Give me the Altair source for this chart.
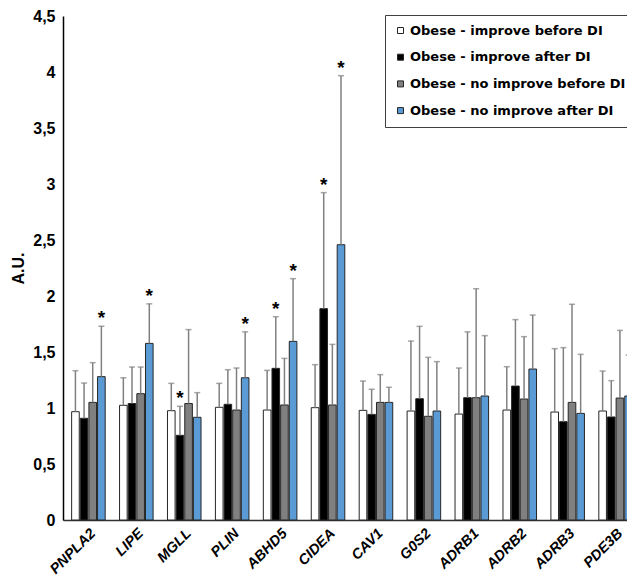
import altair as alt
import pandas as pd

genes = ["PNPLA2", "LIPE", "MGLL", "PLIN", "ABHD5", "CIDEA",
         "CAV1", "G0S2", "ADRB1", "ADRB2", "ADRB3", "PDE3B"]
series = ["Obese - improve before DI", "Obese - improve after DI",
          "Obese - no improve before DI", "Obese - no improve after DI"]
colors = ["#ffffff", "#000000", "#808080", "#5b9bd5"]

mean_improve_before = [0.967, 1.024, 0.976, 1.006, 0.982, 1.003, 0.979, 0.973, 0.946, 0.982, 0.964, 0.973]
mean_improve_after = [0.908, 1.040, 0.756, 1.033, 1.354, 1.887, 0.943, 1.083, 1.092, 1.196, 0.878, 0.920]
mean_noimprove_before = [1.050, 1.128, 1.040, 0.982, 1.027, 1.027, 1.050, 0.926, 1.092, 1.080, 1.050, 1.089]
mean_noimprove_after = [1.280, 1.577, 0.917, 1.270, 1.595, 2.458, 1.050, 0.973, 1.107, 1.348, 0.952, 1.107]

sd_improve_before = [0.366, 0.246, 0.244, 0.214, 0.354, 0.384, 0.262, 0.625, 0.411, 0.387, 0.566, 0.357]
sd_improve_after = [0.315, 0.326, 0.259, 0.309, 0.461, 1.036, 0.224, 0.646, 0.588, 0.593, 0.661, 0.324]
sd_noimprove_before = [0.355, 0.238, 0.660, 0.375, 0.416, 0.541, 0.248, 0.526, 0.973, 0.557, 0.876, 0.604]
sd_noimprove_after = [0.450, 0.353, 0.220, 0.410, 0.560, 1.509, 0.135, 0.441, 0.539, 0.482, 0.527, 0.366]

sig_improve_after = ["MGLL", "ABHD5", "CIDEA"]
sig_noimprove_after = ["PNPLA2", "LIPE", "PLIN", "ABHD5", "CIDEA"]

means = [mean_improve_before, mean_improve_after, mean_noimprove_before, mean_noimprove_after]
sds = [sd_improve_before, sd_improve_after, sd_noimprove_before, sd_noimprove_after]
sigs = [[], sig_improve_after, [], sig_noimprove_after]

rows = []
for s, ms, es, sg in zip(series, means, sds, sigs):
    for g, m, e in zip(genes, ms, es):
        rows.append(dict(gene=g, series=s, mean=m, upper=m + e,
                         star="*" if g in sg else ""))
df = pd.DataFrame(rows)

x = alt.X("gene:N", sort=genes,
          scale=alt.Scale(paddingInner=0.3, paddingOuter=0.18, range=[0, 578]),
          axis=alt.Axis(title=None, labelAngle=-45, labelFont="Liberation Sans",
                        labelFontSize=14.5, labelFontWeight="bold", labelFontStyle="italic",
                        labelColor="black", ticks=False, labelPadding=6,
                        domainColor="#333333", domainWidth=1.5))
xo = alt.XOffset("series:N", sort=series,
                 scale=alt.Scale(domain=series, paddingInner=0.12))
yscale = alt.Scale(domain=[0, 4.5], nice=False)
yaxis = alt.Axis(title="A.U.", values=[0, 0.5, 1, 1.5, 2, 2.5, 3, 3.5, 4, 4.5],
                 labelExpr="replace(format(datum.value, '.1~f'), '.', ',')",
                 grid=False, ticks=False, labelFont="Liberation Sans", labelFontSize=16,
                 labelFontWeight="bold", labelColor="black", labelPadding=8,
                 domainColor="black", domainWidth=1.5,
                 titleFont="Liberation Sans", titleFontSize=16, titleFontWeight="bold",
                 titleColor="black", titlePadding=6)

base = alt.Chart(df)

bars = base.mark_bar(stroke="#262626", strokeWidth=1).encode(
    x=x, xOffset=xo,
    y=alt.Y("mean:Q", scale=yscale, axis=yaxis),
    fill=alt.Fill("series:N", sort=series,
                  scale=alt.Scale(domain=series, range=colors),
                  legend=alt.Legend(title=None, orient="none", legendX=322, legendY=-1,
                                    padding=9, strokeColor="#404040", fillColor="white",
                                    labelFont="DejaVu Sans", labelFontSize=13,
                                    labelFontWeight="bold", labelColor="black",
                                    symbolType="square", symbolSize=36,
                                    symbolStrokeColor="#262626", symbolStrokeWidth=1,
                                    rowPadding=12.7, labelOffset=3, labelLimit=400)),
)

err = base.mark_rule(color="#808080", strokeWidth=1.5).encode(
    x=x, xOffset=xo, y=alt.Y("mean:Q", scale=yscale), y2="upper:Q")

caps = base.mark_tick(color="#808080", thickness=1.5, size=6).encode(
    x=x, xOffset=xo, y=alt.Y("upper:Q", scale=yscale))

stars = base.mark_text(fontSize=19, fontWeight="bold", font="Liberation Sans",
                       baseline="alphabetic", dy=-2, color="black").encode(
    x=x, xOffset=xo, y=alt.Y("upper:Q", scale=yscale), text="star:N")

chart = alt.layer(bars, err, caps, stars).properties(
    width=564, height=504,
    autosize=alt.AutoSizeParams(type="none"),
    padding={"left": 55, "top": 8, "right": 0, "bottom": 58},
).configure_view(stroke=None)

chart.save("out.html", embed_options={"renderer": "svg", "actions": False})
